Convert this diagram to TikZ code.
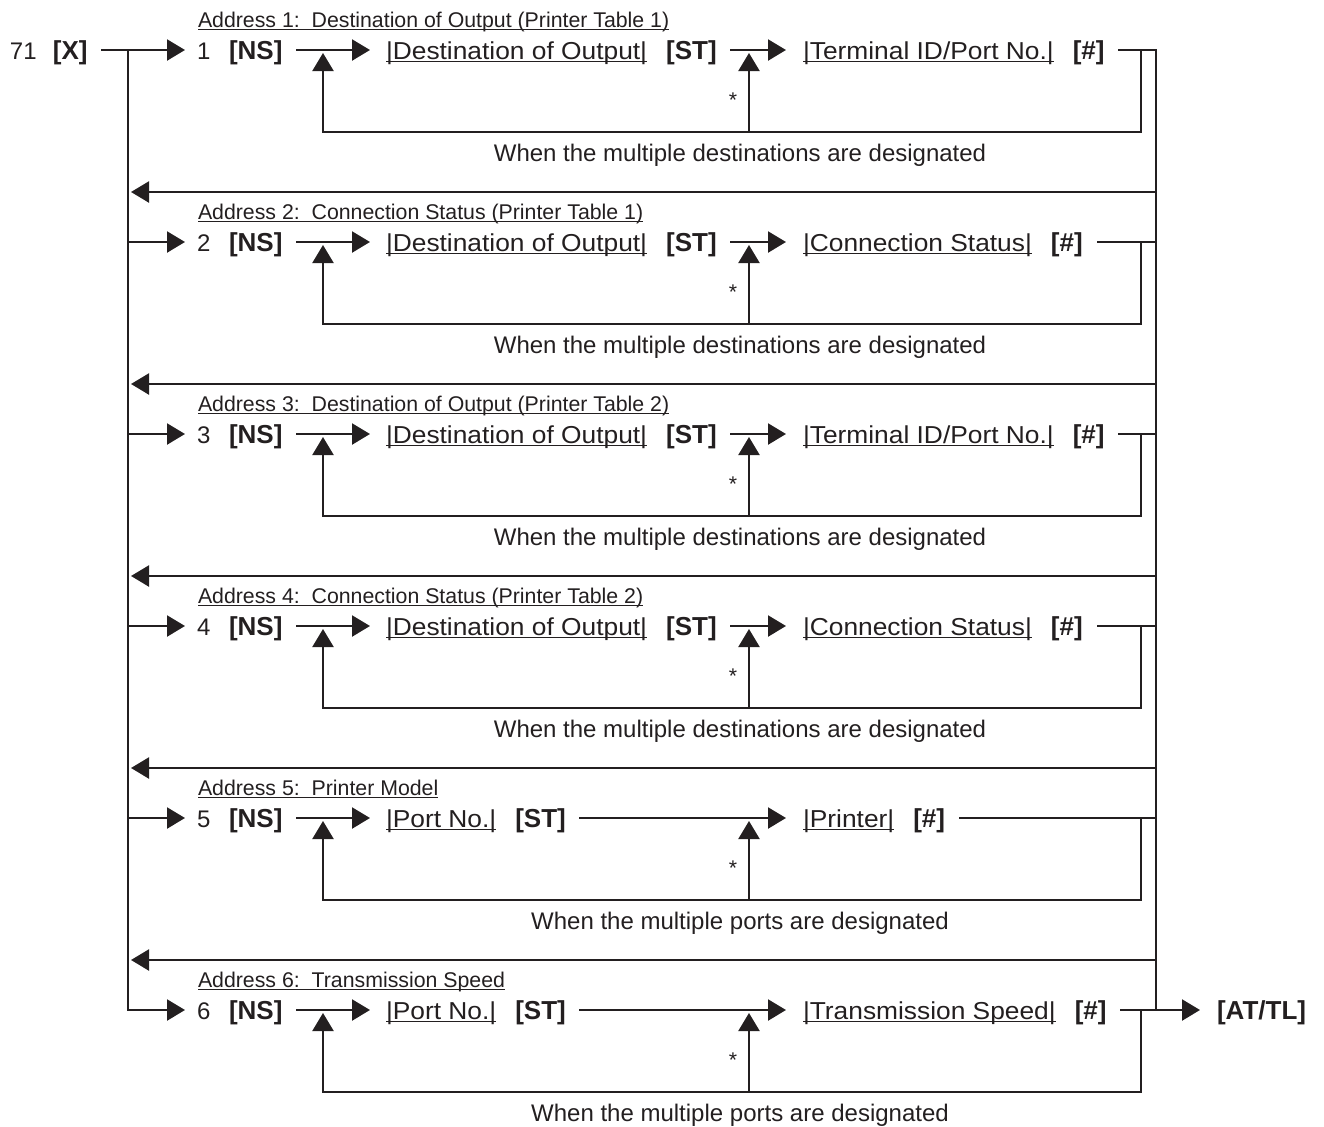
\documentclass[tikz,border=0pt]{standalone}
\usepackage{fontspec}
\setmainfont{Liberation Sans}
\newfontfamily\fieldfont[FakeStretch=1.075]{Liberation Sans}
\usetikzlibrary{arrows.meta,calc}
\definecolor{ink}{RGB}{35,31,32}
\tikzset{
  txt/.style={inner sep=0pt, outer sep=0pt, anchor=base west, text=ink, font=\fontsize{12}{14}\selectfont},
  bld/.style={txt, font=\fontsize{13}{15}\selectfont\bfseries},
  fld/.style={txt, font=\fieldfont\fontsize{12.25}{14}\selectfont},
  addr/.style={txt, font=\fontsize{10.65}{12}\selectfont},
  notetext/.style={txt, anchor=base},
  conn/.style={draw=ink, line width=1.15pt, line cap=rect},
  arr/.style={conn, -{Triangle[length=9pt,width=10.5pt]}},
  uline/.style={draw=ink, line width=0.6pt},
}
\newcommand\ULine[1]{\draw[uline] ([yshift=-1.4pt]#1.base west) -- ([yshift=-1.4pt]#1.base east);}
\newcommand\DiagRow[6]{%
  \coordinate (L#1) at (0,#2);
  \node[addr] (a#1) at (198,#2-23) {#3}; \ULine{a#1}
  \node[txt] (n#1) at (197,#2+9) {#1};
  \node[bld] (ns#1) at (229,#2+9) {[NS]};
  \node[fld] (f#1) at (386,#2+9) {|#4|}; \ULine{f#1}
  \node[bld, anchor=base west] (st#1) at ($(f#1.base east)+(9.5pt,0)$) {[ST]};
  \node[fld] (g#1) at (803,#2+9) {|#5|}; \ULine{g#1}
  \node[bld, anchor=base west] (h#1) at ($(g#1.base east)+(9.5pt,0)$) {[\#]};
  \node[addr, anchor=base] (s#1) at (733,#2+57) {*};
  \node[notetext] (w#1) at (740,#2+111) {#6};
  \draw[arr] (128,#2) -- ($(n#1.base west |- L#1)+(-6pt,0)$);
  \draw[arr] ($(ns#1.base east |- L#1)+(7.5pt,0)$) -- ($(f#1.base west |- L#1)+(-8pt,0)$);
  \draw[arr] ($(st#1.base east |- L#1)+(7pt,0)$) -- ($(g#1.base west |- L#1)+(-8.5pt,0)$);
  \draw[conn] ($(h#1.base east |- L#1)+(7.5pt,0)$) -- (1156,#2);
  \draw[arr] (1141,#2) -- (1141,#2+82) -- (323,#2+82) -- (323,#2+3);
  \draw[arr] (749,#2+82) -- (749,#2+3);
}
\begin{document}
\begin{tikzpicture}[x=0.5pt, y=-0.5pt]
\useasboundingbox (0,0) rectangle (1324,1126);
% start
\node[txt] (n71) at (10,59) {71};
\node[bld] (X) at (53,59) {[X]};
% trunks
\draw[conn] (128,50) -- (128,1010);
\draw[conn] (1156,50) -- (1156,1010);
% rows
\DiagRow{1}{50}{Address 1:\ \ Destination of Output (Printer Table 1)}{Destination of Output}{Terminal ID/Port No.}{When the multiple destinations are designated}
\DiagRow{2}{242}{Address 2:\ \ Connection Status (Printer Table 1)}{Destination of Output}{Connection Status}{When the multiple destinations are designated}
\DiagRow{3}{434}{Address 3:\ \ Destination of Output (Printer Table 2)}{Destination of Output}{Terminal ID/Port No.}{When the multiple destinations are designated}
\DiagRow{4}{626}{Address 4:\ \ Connection Status (Printer Table 2)}{Destination of Output}{Connection Status}{When the multiple destinations are designated}
\DiagRow{5}{818}{Address 5:\ \ Printer Model}{Port No.}{Printer}{When the multiple ports are designated}
\DiagRow{6}{1010}{Address 6:\ \ Transmission Speed}{Port No.}{Transmission Speed}{When the multiple ports are designated}
% entry from [X]
\draw[conn] ($(X.base east |- L1)+(7pt,0)$) -- (128,50);
% returns
\foreach \ry in {192,384,576,768,960} {\draw[arr] (1156,\ry) -- (131,\ry);}
% exit
\node[bld] (end) at (1217,1019) {[AT/TL]};
\draw[arr] (1156,1010) -- ($(end.base west |- L6)+(-8.5pt,0)$);
\end{tikzpicture}
\end{document}
